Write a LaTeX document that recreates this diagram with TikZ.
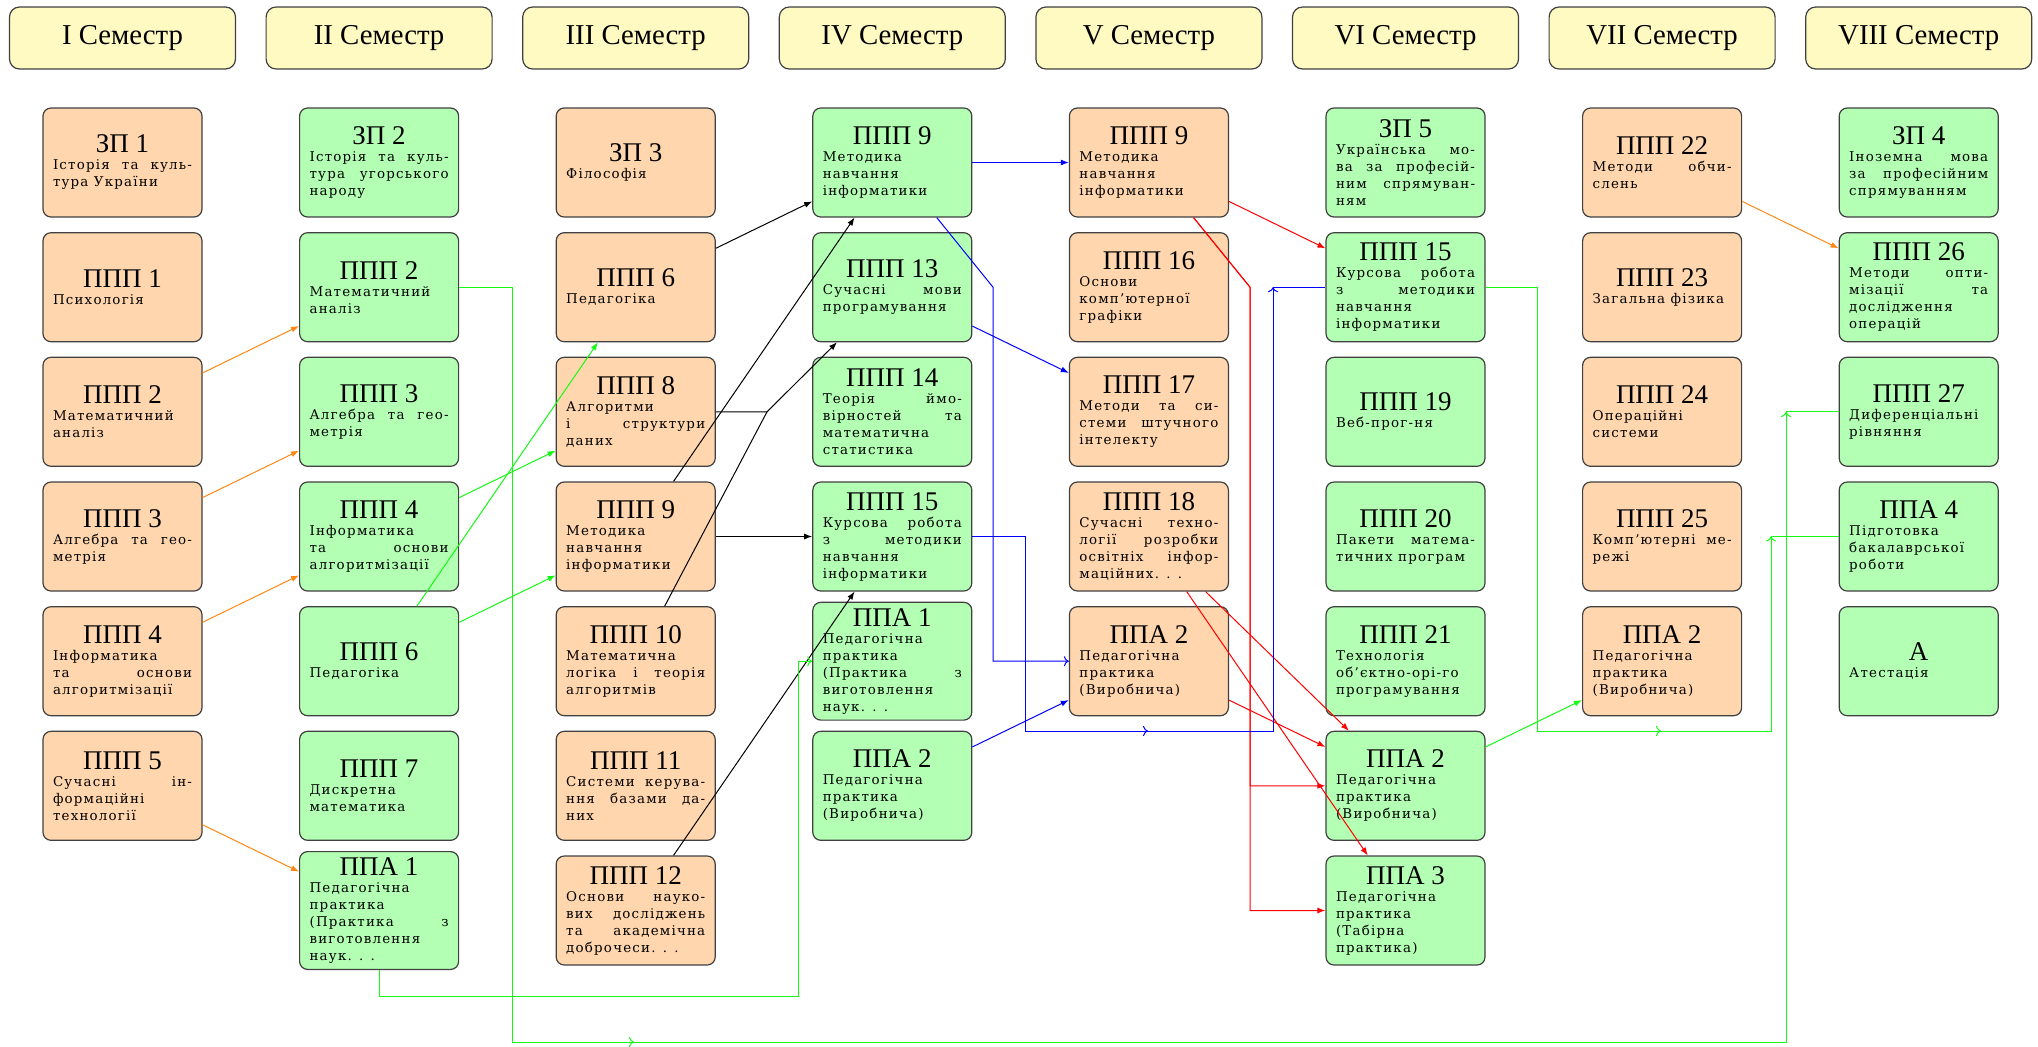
\documentclass[tikz,border=0pt]{standalone}
\usepackage{fontspec}
\setmainfont{Liberation Serif}
\newfontfamily\bodyfont[LetterSpace=9]{DejaVu Serif}
\usetikzlibrary{arrows.meta}
\definecolor{hdrcol}{RGB}{255,249,194}
\definecolor{orfill}{RGB}{255,214,173}
\definecolor{grfill}{RGB}{179,255,179}
\definecolor{lgreen}{RGB}{20,250,20}
\definecolor{lorange}{RGB}{255,135,20}
\newcommand\ttl{\fontsize{13.5}{15}\selectfont}
\newcommand\bdy{\bodyfont\fontsize{6.7}{8.5}\selectfont}
\newcommand\J[1]{\hbox to \hsize{\spaceskip=.3em plus 1fil\relax #1}}
\newcommand\Lf[1]{\hbox to \hsize{#1\hfil}}
\newcommand\cellx[2]{\vbox{\hsize=69.5pt\centering{\ttl #1\par}\bdy\let\\\relax #2}}
\tikzset{
  box/.style={draw=black!75, line width=0.6pt, rounded corners=4pt,
    minimum height=54.5pt, minimum width=79.5pt, inner xsep=0pt, inner ysep=3pt},
  orbox/.style={box, fill=orfill},
  grbox/.style={box, fill=grfill},
  hdr/.style={draw=black!75, line width=0.6pt, rounded corners=5pt, fill=hdrcol,
    minimum width=113pt, minimum height=31pt, inner sep=0pt, font=\fontsize{14.4}{16}\selectfont},
  edge/.style={line width=0.5pt, -{Latex[length=4pt,width=3pt]}},
  kline/.style={edge, black},
  gline/.style={edge, lgreen},
  oline/.style={edge, lorange},
  bline/.style={edge, blue},
  rline/.style={edge, red},
  plain/.style={line width=0.5pt},
  mk/.style={line width=0.5pt, -{To[length=2.5pt,width=5pt]}}
}
\begin{document}
\begin{tikzpicture}[x=0.5pt, y=-0.5pt]
\useasboundingbox (0,0) rectangle (2038,1046);
% headers
\node[hdr] (s1) at (122.5,38) {I Семестр};
\node[hdr] (s2) at (379.1,38) {II Семестр};
\node[hdr] (s3) at (635.7,38) {III Семестр};
\node[hdr] (s4) at (892.3,38) {IV Семестр};
\node[hdr] (s5) at (1148.9,38) {V Семестр};
\node[hdr] (s6) at (1405.5,38) {VI Семестр};
\node[hdr] (s7) at (1662.1,38) {VII Семестр};
\node[hdr] (s8) at (1918.7,38) {VIII Семестр};
% column I
\node[orbox] (a1) at (122.5,162.5) {\cellx{ЗП 1}{\J{Історія та куль-}\\\Lf{тура України}}};
\node[orbox] (a2) at (122.5,287.2) {\cellx{ППП 1}{\Lf{Психологія}}};
\node[orbox] (a3) at (122.5,411.8) {\cellx{ППП 2}{\Lf{Математичний}\\\Lf{аналіз}}};
\node[orbox] (a4) at (122.5,536.5) {\cellx{ППП 3}{\J{Алгебра та гео-}\\\Lf{метрія}}};
\node[orbox] (a5) at (122.5,661.2) {\cellx{ППП 4}{\Lf{Інформатика}\\\J{та основи}\\\Lf{алгоритмізації}}};
\node[orbox] (a6) at (122.5,785.8) {\cellx{ППП 5}{\J{Сучасні ін-}\\\Lf{формаційні}\\\Lf{технології}}};
% column II
\node[grbox] (b1) at (379.1,162.5) {\cellx{ЗП 2}{\J{Історія та куль-}\\\J{тура угорського}\\\Lf{народу}}};
\node[grbox] (b2) at (379.1,287.2) {\cellx{ППП 2}{\Lf{Математичний}\\\Lf{аналіз}}};
\node[grbox] (b3) at (379.1,411.8) {\cellx{ППП 3}{\J{Алгебра та гео-}\\\Lf{метрія}}};
\node[grbox] (b4) at (379.1,536.5) {\cellx{ППП 4}{\Lf{Інформатика}\\\J{та основи}\\\Lf{алгоритмізації}}};
\node[grbox] (b5) at (379.1,661.2) {\cellx{ППП 6}{\Lf{Педагогіка}}};
\node[grbox] (b6) at (379.1,785.8) {\cellx{ППП 7}{\Lf{Дискретна}\\\Lf{математика}}};
\node[grbox] (b7) at (379.1,910.5) {\cellx{ППА 1}{\Lf{Педагогічна}\\\Lf{практика}\\\J{(Практика з}\\\Lf{виготовлення}\\\Lf{наук. . .}}};
% column III
\node[orbox] (c1) at (635.7,162.5) {\cellx{ЗП 3}{\Lf{Філософія}}};
\node[orbox] (c2) at (635.7,287.2) {\cellx{ППП 6}{\Lf{Педагогіка}}};
\node[orbox] (c3) at (635.7,411.8) {\cellx{ППП 8}{\Lf{Алгоритми}\\\J{і структури}\\\Lf{даних}}};
\node[orbox] (c4) at (635.7,536.5) {\cellx{ППП 9}{\Lf{Методика}\\\Lf{навчання}\\\Lf{інформатики}}};
\node[orbox] (c5) at (635.7,661.2) {\cellx{ППП 10}{\Lf{Математична}\\\J{логіка і теорія}\\\Lf{алгоритмів}}};
\node[orbox] (c6) at (635.7,785.8) {\cellx{ППП 11}{\J{Системи керува-}\\\J{ння базами да-}\\\Lf{них}}};
\node[orbox] (c7) at (635.7,910.5) {\cellx{ППП 12}{\J{Основи науко-}\\\J{вих досліджень}\\\J{та академічна}\\\Lf{доброчеси. . .}}};
% column IV
\node[grbox] (d1) at (892.3,162.5) {\cellx{ППП 9}{\Lf{Методика}\\\Lf{навчання}\\\Lf{інформатики}}};
\node[grbox] (d2) at (892.3,287.2) {\cellx{ППП 13}{\J{Сучасні мови}\\\Lf{програмування}}};
\node[grbox] (d3) at (892.3,411.8) {\cellx{ППП 14}{\J{Теорія ймо-}\\\J{вірностей та}\\\Lf{математична}\\\Lf{статистика}}};
\node[grbox] (d4) at (892.3,536.5) {\cellx{ППП 15}{\J{Курсова робота}\\\J{з методики}\\\Lf{навчання}\\\Lf{інформатики}}};
\node[grbox] (d5) at (892.3,661.2) {\cellx{ППА 1}{\Lf{Педагогічна}\\\Lf{практика}\\\J{(Практика з}\\\Lf{виготовлення}\\\Lf{наук. . .}}};
\node[grbox] (d6) at (892.3,785.8) {\cellx{ППА 2}{\Lf{Педагогічна}\\\Lf{практика}\\\Lf{(Виробнича)}}};
% column V
\node[orbox] (e1) at (1148.9,162.5) {\cellx{ППП 9}{\Lf{Методика}\\\Lf{навчання}\\\Lf{інформатики}}};
\node[orbox] (e2) at (1148.9,287.2) {\cellx{ППП 16}{\Lf{Основи}\\\Lf{комп’ютерної}\\\Lf{графіки}}};
\node[orbox] (e3) at (1148.9,411.8) {\cellx{ППП 17}{\J{Методи та си-}\\\J{стеми штучного}\\\Lf{інтелекту}}};
\node[orbox] (e4) at (1148.9,536.5) {\cellx{ППП 18}{\J{Сучасні техно-}\\\J{логії розробки}\\\J{освітніх інфор-}\\\Lf{маційних. . .}}};
\node[orbox] (e5) at (1148.9,661.2) {\cellx{ППА 2}{\Lf{Педагогічна}\\\Lf{практика}\\\Lf{(Виробнича)}}};
% column VI
\node[grbox] (f1) at (1405.5,162.5) {\cellx{ЗП 5}{\J{Українська мо-}\\\J{ва за професій-}\\\J{ним спрямуван-}\\\Lf{ням}}};
\node[grbox] (f2) at (1405.5,287.2) {\cellx{ППП 15}{\J{Курсова робота}\\\J{з методики}\\\Lf{навчання}\\\Lf{інформатики}}};
\node[grbox] (f3) at (1405.5,411.8) {\cellx{ППП 19}{\Lf{Веб-прог-ня}}};
\node[grbox] (f4) at (1405.5,536.5) {\cellx{ППП 20}{\J{Пакети матема-}\\\Lf{тичних програм}}};
\node[grbox] (f5) at (1405.5,661.2) {\cellx{ППП 21}{\Lf{Технологія}\\\Lf{об’єктно-орі-го}\\\Lf{програмування}}};
\node[grbox] (f6) at (1405.5,785.8) {\cellx{ППА 2}{\Lf{Педагогічна}\\\Lf{практика}\\\Lf{(Виробнича)}}};
\node[grbox] (f7) at (1405.5,910.5) {\cellx{ППА 3}{\Lf{Педагогічна}\\\Lf{практика}\\\Lf{(Табірна}\\\Lf{практика)}}};
% column VII
\node[orbox] (g1) at (1662.1,162.5) {\cellx{ППП 22}{\J{Методи обчи-}\\\Lf{слень}}};
\node[orbox] (g2) at (1662.1,287.2) {\cellx{ППП 23}{\Lf{Загальна фізика}}};
\node[orbox] (g3) at (1662.1,411.8) {\cellx{ППП 24}{\Lf{Операційні}\\\Lf{системи}}};
\node[orbox] (g4) at (1662.1,536.5) {\cellx{ППП 25}{\J{Комп’ютерні ме-}\\\Lf{режі}}};
\node[orbox] (g5) at (1662.1,661.2) {\cellx{ППА 2}{\Lf{Педагогічна}\\\Lf{практика}\\\Lf{(Виробнича)}}};
% column VIII
\node[grbox] (h1) at (1918.7,162.5) {\cellx{ЗП 4}{\J{Іноземна мова}\\\J{за професійним}\\\Lf{спрямуванням}}};
\node[grbox] (h2) at (1918.7,287.2) {\cellx{ППП 26}{\J{Методи опти-}\\\J{мізації та}\\\Lf{дослідження}\\\Lf{операцій}}};
\node[grbox] (h3) at (1918.7,411.8) {\cellx{ППП 27}{\Lf{Диференціальні}\\\Lf{рівняння}}};
\node[grbox] (h4) at (1918.7,536.5) {\cellx{ППА 4}{\Lf{Підготовка}\\\Lf{бакалаврської}\\\Lf{роботи}}};
\node[grbox] (h5) at (1918.7,661.2) {\cellx{А}{\Lf{Атестація}}};
% junction points
\coordinate (j1) at (767,411.8);
\coordinate (jb) at (993,287.2);
\coordinate (jr) at (1250,287.2);
% orange
\draw[oline] (a3) -- (b2);
\draw[oline] (a4) -- (b3);
\draw[oline] (a5) -- (b4);
\draw[oline] (a6) -- (b7);
\draw[oline] (g1) -- (h2);
% green straight
\draw[gline] (b4) -- (c3);
\draw[gline] (b5) -- (c4);
\draw[gline] (b5) -- (c2);
\draw[gline] (f6) -- (g5);
% black
\draw[kline] (c2) -- (d1);
\draw[kline] (c4) -- (d1);
\draw[kline] (c4) -- (d4);
\draw[kline] (c7) -- (d4);
\draw[kline] (c3) -- (j1) -- (d2);
\draw[plain] (c5) -- (j1);
% blue
\draw[bline] (d1) -- (e1);
\draw[bline] (d2) -- (e3);
\draw[bline] (d6) -- (e5);
\draw[bline, -{To[length=2.5pt,width=5pt]}] (d1) -- (jb) |- (e5);
% red
\draw[rline] (e1) -- (f2);
\draw[rline] (e5) -- (f6);
\draw[rline] (e4) -- (f6);
\draw[rline] (e4) -- (f7);
\draw[rline] (e1) -- (jr) |- (f6);
\draw[rline] (e1) -- (jr) |- (f7);
% orthogonal paths with markers
\draw[plain, lgreen] (b2.east) -- ++(53,0) |- (1786,1042) |- (h3.west);
\draw[mk, lgreen] (624,1042) -- (634,1042);
\draw[mk, lgreen] (1786,422) -- (1786,412);
\draw[plain, blue] (d4.east) -- ++(53,0) |- (1273,731) |- (f2.west);
\draw[mk, blue] (1138,731) -- (1148,731);
\draw[mk, blue] (1273,297) -- (1273,287.2);
\draw[plain, lgreen] (f2.east) -- ++(52,0) |- (1771,731) |- (h4.west);
\draw[mk, lgreen] (1651,731) -- (1661,731);
\draw[mk, lgreen] (1771,546) -- (1771,536.5);
\draw[plain, lgreen, -{To[length=2.5pt,width=5pt]}] (b7.south) -- (379.1,996) -| (798,661.2) -- (d5.west);
\end{tikzpicture}
\end{document}
